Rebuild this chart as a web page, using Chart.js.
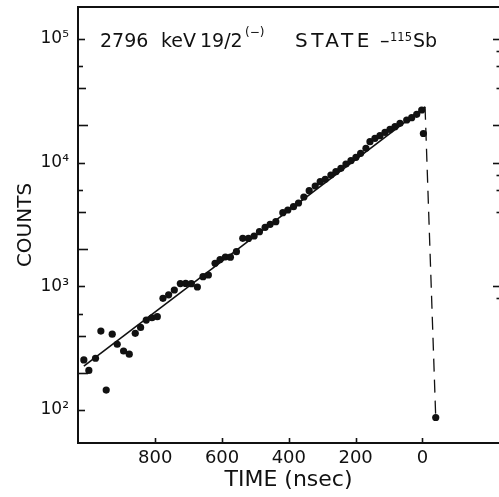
<!DOCTYPE html>
<html>
<head>
<meta charset="utf-8">
<script src="https://cdn.jsdelivr.net/npm/chart.js@4/dist/chart.umd.min.js"></script>
<style>
html,body{margin:0;padding:0;background:#fff;}
#wrap{width:499px;height:497px;position:relative;background:#fff;}
</style>
</head>
<body>
<div id="wrap"><canvas id="c" width="499" height="497"></canvas></div>
<script>
// ---- data ----
const timeNs = [1014, 999, 979, 963, 947, 929, 914, 895, 878, 860, 844, 827, 810, 794, 777, 760, 743, 725, 709, 692,
  674, 657, 641, 621, 606, 590, 575, 557, 538, 521, 504, 488, 471, 456, 439, 418, 403, 386, 371, 355,
  339, 321, 306, 291, 274, 259, 244, 229, 214, 199, 185, 169, 157, 142, 127, 112, 97, 82, 67, 47,
  32, 17, 2, -3, -40];
const counts = [254, 209, 262, 435, 145, 410, 340, 300, 283, 417, 465, 534, 557, 568, 800, 854, 934, 1052, 1056, 1050,
  988, 1196, 1235, 1536, 1645, 1727, 1720, 1905, 2446, 2440, 2553, 2765, 3001, 3174, 3332, 3939, 4142, 4405, 4718, 5277,
  5934, 6477, 7016, 7336, 7947, 8452, 9004, 9754, 10370, 11050, 11900, 13070, 14770, 15740, 16520, 17600, 18610, 19540, 20810, 22130,
  23100, 24610, 26660, 17210, 87];
const fitTime = [1014, -8];
const fitCounts = [226, 28300];
const dropTime = [-8, -40];
const dropCounts = [28300, 87];

const xTickValues = [800, 600, 400, 200, 0];
const yTickValues = [100, 200, 400, 600, 1000, 2000, 4000, 6000, 10000, 20000, 40000, 60000, 100000];
const yTickLabels = {100: '10²', 1000: '10³', 10000: '10⁴', 100000: '10⁵'};
const rightTickValues = [100000, 80000, 60000, 40000, 20000, 10000, 8000, 6000, 4000, 1000, 800];

const titleMain = ['2796', 'keV', '19/2', 'STATE', '–', 'Sb'];
const titleSup = ['(−)', '115'];
const xTitle = 'TIME (nsec)';
const yTitle = 'COUNTS';

const pts = (xs, ys) => xs.map((x, i) => ({x: x, y: ys[i]}));
const INK = '#111';
const FONT = "'DejaVu Sans', sans-serif";

function mant(v) {
  const e = Math.floor(Math.log10(v) + 1e-9);
  return Math.round(v / Math.pow(10, e));
}

const decor = {
  id: 'decor',
  afterDraw(chart) {
    const {ctx, chartArea: a, scales: {x, y}} = chart;
    ctx.save();
    ctx.strokeStyle = INK;
    ctx.fillStyle = INK;
    const seg = (x1, y1, x2, y2) => { ctx.beginPath(); ctx.moveTo(x1, y1); ctx.lineTo(x2, y2); ctx.stroke(); };
    // top frame line
    ctx.lineWidth = 2;
    seg(a.left - 1, a.top, a.right, a.top);
    // left axis ticks (inward)
    ctx.lineWidth = 1.6;
    y.ticks.forEach(t => {
      const py = Math.round(y.getPixelForValue(t.value)) + 0.5;
      const m = mant(t.value);
      const len = m === 1 ? 7 : m === 2 ? 10 : m === 4 ? 8 : 5;
      seg(a.left, py, a.left + len, py);
    });
    // bottom axis ticks (inward)
    x.ticks.forEach(t => {
      const px = Math.round(x.getPixelForValue(t.value)) + 0.5;
      seg(px, a.bottom, px, a.bottom - 5);
    });
    // ticks of the neighbouring frame at the right edge
    rightTickValues.forEach(v => {
      const py = Math.round(y.getPixelForValue(v)) + 0.5;
      const m = mant(v);
      const len = (m === 1 || m === 2) ? 6 : 2.5;
      seg(a.right, py, a.right - len, py);
    });
    // title inside the frame
    ctx.textBaseline = 'alphabetic';
    ctx.textAlign = 'left';
    ctx.font = '19px ' + FONT;
    const base = 46.5;
    ctx.fillText(titleMain[0], 100, base);
    ctx.fillText(titleMain[1], 161, base);
    ctx.fillText(titleMain[2], 200, base);
    ctx.font = '12px ' + FONT;
    ctx.fillText(titleSup[0], 245, 36);
    ctx.font = '20px ' + FONT;
    try { ctx.letterSpacing = '3.5px'; } catch (e) {}
    ctx.fillText(titleMain[3], 295, base);
    try { ctx.letterSpacing = '0px'; } catch (e) {}
    ctx.font = '19px ' + FONT;
    ctx.fillText(titleMain[4], 380, base);
    ctx.font = '11.5px ' + FONT;
    ctx.fillText(titleSup[1], 390, 40.5);
    ctx.font = '19px ' + FONT;
    ctx.fillText(titleMain[5], 413, base);
    ctx.restore();
  }
};

new Chart(document.getElementById('c'), {
  type: 'scatter',
  data: {
    datasets: [
      {
        label: 'fit',
        data: pts(fitTime, fitCounts),
        showLine: true,
        borderColor: INK,
        borderWidth: 1.6,
        pointRadius: 0,
        order: 2
      },
      {
        label: 'prompt',
        data: pts(dropTime, dropCounts),
        showLine: true,
        borderColor: INK,
        borderWidth: 1.3,
        borderDash: [13, 8],
        pointRadius: 0,
        order: 3
      },
      {
        label: 'counts',
        data: pts(timeNs, counts),
        showLine: false,
        pointRadius: 3.6,
        pointBackgroundColor: INK,
        pointBorderColor: INK,
        pointBorderWidth: 0,
        order: 1
      }
    ]
  },
  options: {
    responsive: false,
    animation: false,
    devicePixelRatio: 1,
    layout: {autoPadding: false, padding: {top: 7, right: 0, left: 0, bottom: 0}},
    plugins: {legend: {display: false}, tooltip: {enabled: false}, title: {display: false}},
    scales: {
      x: {
        type: 'linear',
        reverse: true,
        min: -229.5,
        max: 1031.5,
        bounds: 'data',
        grid: {display: false, drawTicks: false},
        border: {display: true, color: INK, width: 2},
        afterBuildTicks: s => { s.ticks = xTickValues.map(v => ({value: v})); },
        afterFit: s => { s.height = 54; s.paddingLeft = 0; s.paddingRight = 0; },
        ticks: {
          autoSkip: false,
          maxRotation: 0,
          padding: 5,
          color: INK,
          font: {family: FONT, size: 18},
          callback: v => String(v)
        },
        title: {
          display: true,
          text: xTitle,
          color: INK,
          font: {family: FONT, size: 22},
          padding: {top: 0, bottom: 4}
        }
      },
      y: {
        type: 'logarithmic',
        min: 54.1,
        max: 181400,
        bounds: 'data',
        grid: {display: false, drawTicks: false},
        border: {display: true, color: INK, width: 2},
        afterBuildTicks: s => { s.ticks = yTickValues.map(v => ({value: v})); },
        afterFit: s => { s.width = 78; s.paddingTop = 0; s.paddingBottom = 0; },
        ticks: {
          autoSkip: false,
          padding: 9,
          color: INK,
          font: {family: FONT, size: 17},
          callback: v => yTickLabels[v] || ''
        },
        title: {
          display: true,
          text: yTitle,
          color: INK,
          font: {family: FONT, size: 20},
          padding: {top: 14, bottom: 0}
        }
      }
    }
  },
  plugins: [decor]
});
</script>
</body>
</html>
